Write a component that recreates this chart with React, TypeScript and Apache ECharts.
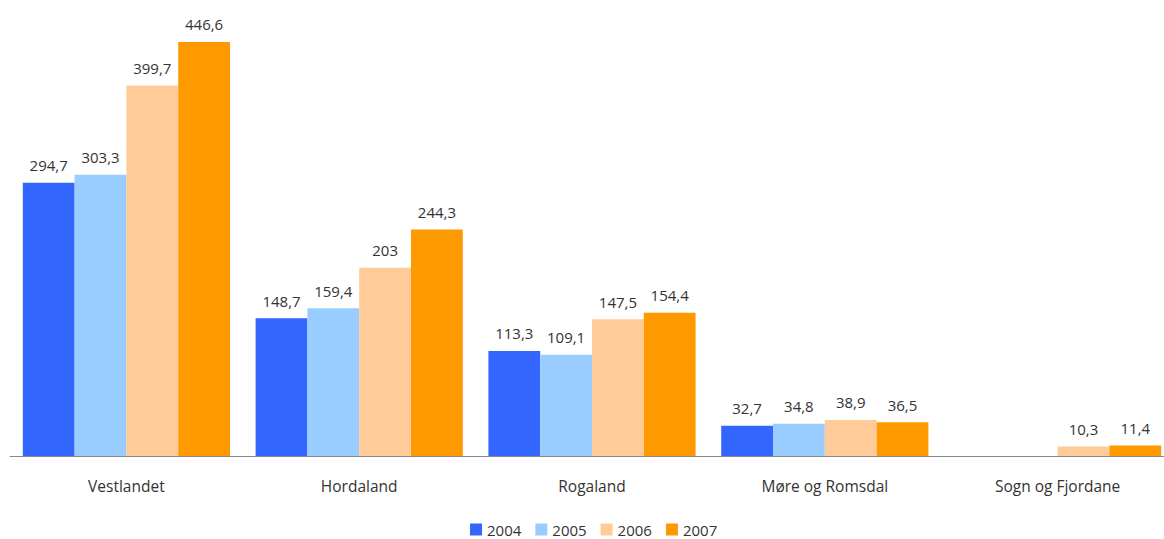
import React, { useEffect, useRef } from "react";
import * as echarts from "echarts";

const categories = ["Vestlandet", "Hordaland", "Rogaland", "Møre og Romsdal", "Sogn og Fjordane"];
const years = ["2004", "2005", "2006", "2007"];
const values2004 = [294.7, 148.7, 113.3, 32.7, null];
const values2005 = [303.3, 159.4, 109.1, 34.8, null];
const values2006 = [399.7, 203, 147.5, 38.9, 10.3];
const values2007 = [446.6, 244.3, 154.4, 36.5, 11.4];
const colors = ["#3366FF", "#99CCFF", "#FFCC99", "#FF9900"];

const FONT = "'Open Sans', 'Noto Sans', sans-serif";

export default function App() {
  const ref = useRef<HTMLDivElement>(null);
  useEffect(() => {
    if (!ref.current) return;
    const chart = echarts.init(ref.current, null, { renderer: "svg" });
    const allValues = [values2004, values2005, values2006, values2007];
    chart.setOption({
      animation: false,
      textStyle: { fontFamily: FONT },
      grid: {
        left: 10,
        right: -10,
        top: 11,
        bottom: 83,
        containLabel: false,
        outerBoundsMode: "none",
      },
      legend: {
        data: years,
        top: 522,
        left: 470,
        padding: 0,
        itemWidth: 12,
        itemHeight: 12,
        itemGap: 14,
        icon: "rect",
        textStyle: { fontFamily: FONT, fontSize: 15, lineHeight: 15, color: "#333" },
      },
      xAxis: {
        type: "category",
        data: categories,
        axisLine: { lineStyle: { color: "#888", width: 1 } },
        axisTick: { show: false },
        axisLabel: { fontFamily: FONT, fontSize: 15.5, color: "#333", margin: 22 },
      },
      yAxis: {
        type: "value",
        min: 0,
        max: 480,
        show: false,
        splitLine: { show: false },
      },
      series: years.map((y, i) => ({
        name: y,
        type: "bar",
        data: allValues[i],
        barGap: "0%",
        barCategoryGap: "11%",
        itemStyle: { color: colors[i] },
        label: {
          show: true,
          position: "top",
          distance: 10,
          fontFamily: FONT,
          fontSize: 15,
          color: "#333",
          formatter: (p: any) => String(p.value).replace(".", ","),
        },
      })),
    });
    return () => chart.dispose();
  }, []);
  return (
    <div
      ref={ref}
      style={{ position: "fixed", left: 0, top: 0, width: 1164, height: 539, background: "#fff" }}
    />
  );
}
